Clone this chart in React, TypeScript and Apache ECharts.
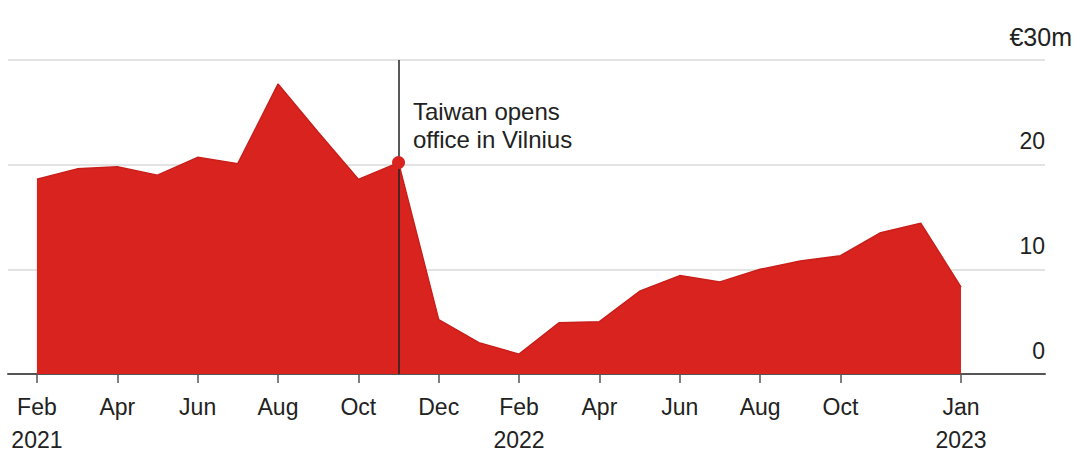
import React, { useEffect, useRef } from "react";
import * as echarts from "echarts";

const months = [
  "Feb 2021", "Mar 2021", "Apr 2021", "May 2021", "Jun 2021", "Jul 2021",
  "Aug 2021", "Sep 2021", "Oct 2021", "Nov 2021", "Dec 2021", "Jan 2022",
  "Feb 2022", "Mar 2022", "Apr 2022", "May 2022", "Jun 2022", "Jul 2022",
  "Aug 2022", "Sep 2022", "Oct 2022", "Nov 2022", "Dec 2022", "Jan 2023",
];
const values = [
  18.6, 19.6, 19.8, 19.0, 20.7, 20.1, 27.7, 23.1, 18.6, 20.2, 5.2, 3.0,
  1.9, 4.9, 5.0, 7.9, 9.4, 8.8, 10.0, 10.8, 11.3, 13.5, 14.4, 8.3,
];
const tickIndices = [0, 2, 4, 6, 8, 10, 12, 14, 16, 18, 20, 23];
const tickLabels = [
  "Feb\n2021", "Apr", "Jun", "Aug", "Oct", "Dec", "Feb\n2022", "Apr", "Jun",
  "Aug", "Oct", "Jan\n2023",
];
const yTicks = [0, 10, 20, 30];
const yTopLabel = "€30m";
const eventIndex = 9;
const eventText = "Taiwan opens\noffice in Vilnius";

export default function App() {
  const ref = useRef<HTMLDivElement>(null);
  useEffect(() => {
    if (!ref.current) return;
    const chart = echarts.init(ref.current, undefined, { renderer: "svg" });
    const font = "'Liberation Sans', Arial, sans-serif";
    chart.setOption({
      animation: false,
      backgroundColor: "#ffffff",
      grid: { left: 8, right: 35, top: 60, bottom: 84, outerBoundsMode: "none", containLabel: false },
      xAxis: {
        type: "value",
        min: -0.72,
        max: 25.09,
        splitLine: { show: false },
        axisLine: { show: true, lineStyle: { color: "#555555", width: 2 } },
        axisTick: {
          show: true,
          customValues: tickIndices,
          length: 9,
          lineStyle: { color: "#555555", width: 1.5 },
        },
        axisLabel: {
          customValues: tickIndices,
          formatter: (v: number) => {
            const i = tickIndices.indexOf(Math.round(v));
            return i >= 0 ? tickLabels[i] : "";
          },
          color: "#222222",
          fontSize: 23,
          lineHeight: 33,
          margin: 16,
          fontFamily: font,
        },
      },
      yAxis: {
        type: "value",
        position: "right",
        min: 0,
        max: 30,
        interval: 10,
        axisLine: { show: false },
        axisTick: { show: false },
        splitLine: { show: true, lineStyle: { color: "#e3e3e3", width: 2 } },
        axisLabel: {
          inside: true,
          margin: 0,
          align: "right",
          verticalAlign: "bottom",
          padding: [0, 0, 12, 0],
          color: "#222222",
          fontSize: 23,
          fontFamily: font,
          customValues: yTicks,
          formatter: (v: number) => (v === 30 ? "" : String(v)),
        },
      },
      graphic: [
        {
          type: "text",
          x: 1072,
          y: 37,
          style: {
            text: yTopLabel,
            font: `25px ${font}`,
            fill: "#222222",
            align: "right",
            verticalAlign: "middle",
          },
        },
        {
          type: "text",
          left: 413,
          top: 97,
          style: {
            text: eventText,
            font: `24px ${font}`,
            lineHeight: 28,
            fill: "#222222",
          },
        },
      ],
      series: [
        {
          type: "line",
          data: values.map((v, i) => [i, v]),
          symbol: "none",
          lineStyle: { color: "#c91f1b", width: 1.5 },
          areaStyle: { color: "#d8231f", opacity: 1 },
          z: 2,
          markLine: {
            silent: true,
            symbol: "none",
            label: { show: false },
            lineStyle: { color: "#222222", width: 1.5, type: "solid" },
            data: [[{ coord: [eventIndex, 0] }, { coord: [eventIndex, 30] }]],
          },
          markPoint: {
            symbol: "circle",
            symbolSize: 13,
            itemStyle: { color: "#d8231f" },
            label: { show: false },
            data: [{ coord: [eventIndex, values[eventIndex]] }],
          },
        },
      ],
    });
    return () => chart.dispose();
  }, []);
  return (
    <div
      ref={ref}
      style={{ position: "absolute", left: 0, top: 0, width: 1080, height: 458 }}
    />
  );
}
